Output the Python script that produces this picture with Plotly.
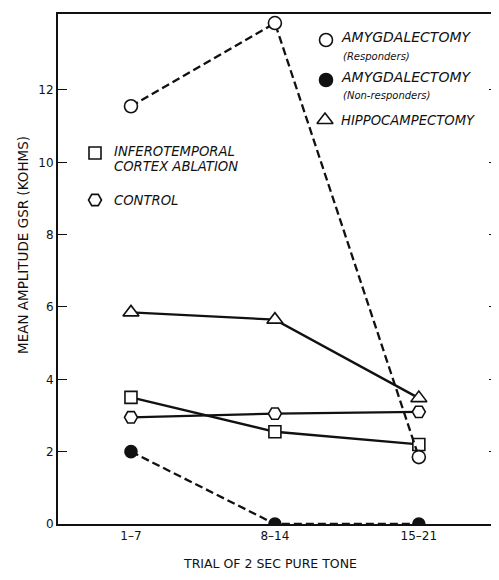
import plotly.graph_objects as go

trials = ["1\u20137", "8\u201314", "15\u201321"]
amyg_resp = [11.55, 13.85, 1.85]
amyg_nonresp = [2.0, 0.0, 0.0]
hippocampectomy = [5.85, 5.65, 3.48]
inferotemporal = [3.5, 2.55, 2.2]
control = [2.95, 3.05, 3.1]
y_ticks = [0, 2, 4, 6, 8, 10, 12]

FONT = "DejaVu Sans"
BLACK = "#111111"

# page body has an 8px margin; positions below are in screenshot pixels
OFF = 8
W, H = 499, 580
L, R, T, B = 58 - OFF, W - (498 - OFF), 14 - OFF, H - (524 - OFF)
pw, ph = W - L - R, H - T - B

def px(xpix):
    return (xpix - OFF - L) / pw

def py(ypix):
    return (H - B - (ypix - OFF)) / ph

fig = go.Figure()

def series(y, symbol, dash, filled=False, size=13):
    fig.add_trace(go.Scatter(
        x=[0, 1, 2], y=y, mode="lines+markers", showlegend=False,
        line=dict(color=BLACK, width=2.3, dash=dash),
        marker=dict(symbol=symbol, size=size,
                    color=BLACK if filled else "white",
                    line=dict(color=BLACK, width=1.6)),
    ))

series(hippocampectomy, "triangle-up", "solid", size=14)
series(inferotemporal, "square", "solid", size=12)
series(control, "hexagon2", "solid", size=13)
series(amyg_resp, "circle", "8px,4px", size=13)
series(amyg_nonresp, "circle", "8px,4px", filled=True, size=12)

# legend keys (on an overlay axis in plot-fraction units)
keys = [
    (px(326), py(40), "circle", False, 13),
    (px(326), py(80), "circle", True, 13),
    (px(325), py(120), "triangle-up", False, 14),
    (px(95), py(153), "square", False, 12),
    (px(95), py(200), "hexagon2", False, 13),
]
for kx, ky, sym, filled, sz in keys:
    fig.add_trace(go.Scatter(
        x=[kx], y=[ky], xaxis="x2", yaxis="y2", mode="markers", showlegend=False,
        marker=dict(symbol=sym, size=sz, color=BLACK if filled else "white",
                    line=dict(color=BLACK, width=1.6)),
    ))

def note(x, y, text, size=12):
    fig.add_annotation(x=px(x), y=py(y), xref="paper", yref="paper", text=text,
                       showarrow=False, xanchor="left", yanchor="middle",
                       font=dict(family=FONT, size=size, color=BLACK, style="italic"))

note(339, 37, "AMYGDALECTOMY", 14)
note(341, 56, "(Responders)", 10)
note(339, 77, "AMYGDALECTOMY", 14)
note(341, 96, "(Non-responders)", 10)
note(339, 120, "HIPPOCAMPECTOMY", 13.2)
note(112, 151, "INFEROTEMPORAL", 13.2)
note(112, 166, "CORTEX ABLATION", 13.2)
note(112, 200, "CONTROL", 13.2)

fig.add_annotation(x=px(13), y=py(245), xref="paper", yref="paper",
                   text="MEAN AMPLITUDE GSR (KOHMS)", showarrow=False, textangle=-90,
                   font=dict(family=FONT, size=13.5, color=BLACK))
fig.add_annotation(x=px(270), y=py(573), xref="paper", yref="paper",
                   text="TRIAL OF 2 SEC PURE TONE", showarrow=False,
                   font=dict(family=FONT, size=12.5, color=BLACK))

fig.update_layout(
    width=W, height=H, margin=dict(l=L, r=R, t=T, b=B, autoexpand=False),
    paper_bgcolor="white", plot_bgcolor="white",
    xaxis=dict(range=[-0.507, 2.55], tickmode="array", tickvals=[0, 1, 2], ticktext=trials,
               showgrid=False, zeroline=False, showline=True, linecolor=BLACK, linewidth=2,
               mirror=True, ticks="", tickfont=dict(family=FONT, size=12, color=BLACK)),
    yaxis=dict(range=[0, 14.1], tickvals=y_ticks, showgrid=False, zeroline=False,
               showline=True, linecolor=BLACK, linewidth=2, mirror="ticks",
               ticks="inside", ticklen=9, tickwidth=1.2, tickcolor=BLACK,
               tickfont=dict(family=FONT, size=12, color=BLACK)),
    xaxis2=dict(overlaying="x", range=[0, 1], visible=False),
    yaxis2=dict(overlaying="y", range=[0, 1], visible=False),
)

fig.write_html("out.html")
